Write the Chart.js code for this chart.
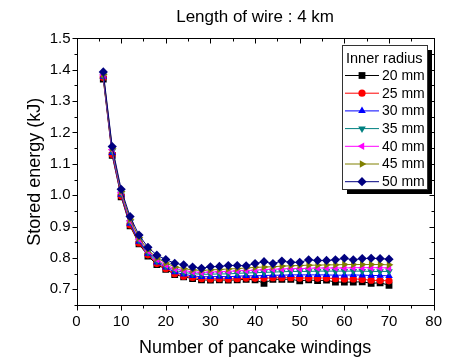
<!DOCTYPE html>
<html>
<head>
  <title>Stored energy vs pancake windings</title>
  <script src="https://cdn.jsdelivr.net/npm/chart.js"></script>
  <style>
    html, body { margin: 0; padding: 0; background: #fff; }
    #wrap { width: 450px; height: 360px; }
  </style>
</head>
<body>
  <div id="wrap"><canvas id="energy-chart"></canvas></div>
  <script>
    const windings = [6, 8, 10, 12, 14, 16, 18, 20, 22, 24, 26, 28, 30, 32, 34, 36, 38, 40,
                      42, 44, 46, 48, 50, 52, 54, 56, 58, 60, 62, 64, 66, 68, 70];
    const radiusLabels = ['20 mm', '25 mm', '30 mm', '35 mm', '40 mm', '45 mm', '50 mm'];

    const r20 = [1.370, 1.127, 0.995, 0.902, 0.845, 0.806, 0.779, 0.764, 0.747, 0.740, 0.734, 0.730, 0.729, 0.730, 0.729, 0.730, 0.732, 0.730,
                 0.719, 0.732, 0.732, 0.732, 0.727, 0.730, 0.728, 0.729, 0.723, 0.723, 0.723, 0.724, 0.719, 0.721, 0.713];
    const r25 = [1.375, 1.130, 0.998, 0.905, 0.848, 0.810, 0.782, 0.766, 0.750, 0.742, 0.738, 0.734, 0.733, 0.734, 0.733, 0.734, 0.736, 0.735,
                 0.735, 0.737, 0.737, 0.737, 0.736, 0.736, 0.736, 0.736, 0.734, 0.733, 0.733, 0.732, 0.729, 0.728, 0.727];
    const r30 = [1.378, 1.135, 1.002, 0.910, 0.852, 0.814, 0.786, 0.770, 0.755, 0.748, 0.743, 0.740, 0.740, 0.741, 0.740, 0.742, 0.743, 0.743,
                 0.744, 0.745, 0.745, 0.746, 0.746, 0.746, 0.746, 0.746, 0.745, 0.745, 0.746, 0.745, 0.744, 0.744, 0.743];
    const r35 = [1.380, 1.140, 1.005, 0.914, 0.856, 0.818, 0.790, 0.774, 0.761, 0.754, 0.750, 0.748, 0.748, 0.749, 0.749, 0.751, 0.752, 0.753,
                 0.754, 0.755, 0.756, 0.757, 0.757, 0.757, 0.758, 0.758, 0.758, 0.758, 0.758, 0.758, 0.757, 0.757, 0.757];
    const r40 = [1.383, 1.145, 1.008, 0.918, 0.860, 0.822, 0.795, 0.778, 0.766, 0.760, 0.756, 0.754, 0.755, 0.756, 0.757, 0.759, 0.760, 0.761,
                 0.763, 0.764, 0.765, 0.766, 0.766, 0.767, 0.768, 0.768, 0.768, 0.768, 0.769, 0.769, 0.769, 0.769, 0.768];
    const r45 = [1.386, 1.150, 1.012, 0.923, 0.865, 0.826, 0.800, 0.784, 0.772, 0.766, 0.762, 0.760, 0.762, 0.763, 0.765, 0.766, 0.768, 0.770,
                 0.771, 0.772, 0.774, 0.775, 0.776, 0.777, 0.777, 0.778, 0.778, 0.779, 0.779, 0.779, 0.779, 0.779, 0.778];
    const r50 = [1.393, 1.155, 1.019, 0.932, 0.873, 0.834, 0.809, 0.795, 0.783, 0.778, 0.771, 0.767, 0.772, 0.773, 0.776, 0.776, 0.775, 0.782,
                 0.788, 0.782, 0.790, 0.786, 0.786, 0.794, 0.792, 0.792, 0.794, 0.799, 0.794, 0.798, 0.799, 0.798, 0.796];

    const series = [r20, r25, r30, r35, r40, r45, r50];
    const colors = ['#000000', '#ff0000', '#0000ff', '#008080', '#ff00ff', '#808000', '#000080'];
    const markers = ['rect', 'circle', 'triangle', 'triangle', 'triangle', 'triangle', 'rectRot'];
    const rotations = [0, 0, 0, 180, -90, 90, 0];
    const radii = [4.8, 3.6, 4.4, 4.4, 4.4, 4.4, 4.6];

    const FONT = 'Liberation Sans, Arial, sans-serif';

    const datasets = series.map((vals, i) => ({
      label: radiusLabels[i],
      data: windings.map((w, j) => ({ x: w, y: vals[j] })),
      borderColor: colors[i],
      backgroundColor: colors[i],
      borderWidth: 1,
      pointStyle: markers[i],
      rotation: rotations[i],
      pointRadius: radii[i],
      pointBorderWidth: 0,
      order: 6 - i
    }));

    // draws a marker like Chart.js does, for the legend
    function marker(ctx, style, r, rot, x, y) {
      ctx.save();
      ctx.translate(x, y);
      ctx.rotate(rot * Math.PI / 180);
      ctx.beginPath();
      if (style === 'circle') {
        ctx.arc(0, 0, r, 0, Math.PI * 2);
      } else if (style === 'rect') {
        const s = r * Math.SQRT1_2;
        ctx.rect(-s, -s, 2 * s, 2 * s);
      } else if (style === 'rectRot') {
        ctx.moveTo(0, -r); ctx.lineTo(r, 0); ctx.lineTo(0, r); ctx.lineTo(-r, 0);
        ctx.closePath();
      } else {
        const h = r * 1.5;
        ctx.moveTo(0, -r);
        ctx.lineTo(h * Math.sqrt(3) / 3, r / 2);
        ctx.lineTo(-h * Math.sqrt(3) / 3, r / 2);
        ctx.closePath();
      }
      ctx.fill();
      ctx.restore();
    }

    // frame, ticks (major + minor, inward on top/right) and the boxed legend
    const framePlugin = {
      id: 'frame',
      afterDraw(chart) {
        const { ctx, chartArea: a, scales: { x, y } } = chart;
        ctx.save();
        ctx.strokeStyle = '#000';
        ctx.lineWidth = 1;
        ctx.strokeRect(Math.round(a.left) + 0.5, Math.round(a.top) + 0.5,
                       Math.round(a.right - a.left), Math.round(a.bottom - a.top));
        ctx.beginPath();
        const L = Math.round(a.left) + 0.5, R = Math.round(a.right) + 0.5;
        const T = Math.round(a.top) + 0.5, B = Math.round(a.bottom) + 0.5;
        for (let k = 0; k <= 16; k++) {
          const v = k * 5;
          const px = Math.round(x.getPixelForValue(v)) + 0.5;
          const len = k % 2 === 0 ? 5 : 3;
          ctx.moveTo(px, B); ctx.lineTo(px, B + len);
          ctx.moveTo(px, T); ctx.lineTo(px, T + len);
        }
        for (let k = 13; k <= 30; k++) {
          const v = k * 0.05;
          const py = Math.round(y.getPixelForValue(v)) + 0.5;
          const len = k % 2 === 0 ? 5 : 3;
          ctx.moveTo(L, py); ctx.lineTo(L - len, py);
          ctx.moveTo(R, py); ctx.lineTo(R - len, py);
        }
        ctx.stroke();

        // legend box
        const bw = 85, bh = 144;
        const bx = Math.round(a.right) - 7 - bw, by = Math.round(a.top) + 7;
        ctx.fillStyle = '#000';
        ctx.fillRect(bx + 5, by + 5, bw, bh);
        ctx.fillStyle = '#fff';
        ctx.fillRect(bx, by, bw, bh);
        ctx.strokeStyle = '#333';
        ctx.strokeRect(bx + 0.5, by + 0.5, bw, bh);

        ctx.fillStyle = '#000';
        ctx.textBaseline = 'middle';
        ctx.font = '14.5px ' + FONT;
        ctx.fillText('Inner radius', bx + 4, by + 13.5);
        ctx.font = '14px ' + FONT;
        chart.data.datasets.forEach((ds, i) => {
          const yy = by + 30 + i * 17.7;
          ctx.strokeStyle = ds.borderColor;
          ctx.beginPath();
          ctx.moveTo(bx + 3, yy + 0.5); ctx.lineTo(bx + 37, yy + 0.5);
          ctx.stroke();
          ctx.fillStyle = ds.backgroundColor;
          marker(ctx, ds.pointStyle, ds.pointRadius, ds.rotation, bx + 20, yy + 0.5);
          ctx.fillStyle = '#000';
          ctx.fillText(ds.label, bx + 40, yy + 1);
        });
        ctx.restore();
      }
    };

    const ctx = document.getElementById('energy-chart').getContext('2d');
    const energyChart = new Chart(ctx, {
      type: 'line',
      data: { datasets: datasets },
      options: {
        responsive: true,
        maintainAspectRatio: false,
        animation: false,
        layout: { padding: { left: 20, right: 12, bottom: 0 } },
        plugins: {
          legend: { display: false },
          tooltip: { enabled: false },
          title: {
            display: true,
            fullSize: false,
            text: 'Length of wire : 4 km',
            color: '#000',
            font: { family: FONT, size: 17, weight: 'normal' },
            padding: { top: 7, bottom: 11 }
          }
        },
        scales: {
          x: {
            type: 'linear',
            min: 0,
            max: 80,
            grid: { display: false, drawTicks: false },
            border: { display: false },
            afterFit: (s) => { s.height = 55; },
            ticks: {
              stepSize: 10,
              padding: 8,
              color: '#000',
              font: { family: FONT, size: 15 },
              maxRotation: 0
            },
            title: {
              display: true,
              text: 'Number of pancake windings',
              color: '#000',
              font: { family: FONT, size: 18 },
              padding: { top: 6, bottom: 1 }
            }
          },
          y: {
            min: 0.65,
            max: 1.5,
            grid: { display: false, drawTicks: false },
            border: { display: false },
            afterFit: (s) => { s.width = 56.5; },
            ticks: {
              stepSize: 0.05,
              autoSkip: false,
              padding: 6,
              color: '#000',
              font: { family: FONT, size: 15 },
              callback: (v) => {
                const r = Math.round(v * 100);
                return (r % 10 === 0) ? (r / 100).toFixed(1) : '';
              }
            },
            title: {
              display: true,
              text: 'Stored energy (kJ)',
              color: '#000',
              font: { family: FONT, size: 18 },
              padding: 4
            }
          }
        }
      },
      plugins: [framePlugin]
    });
  </script>
</body>
</html>
